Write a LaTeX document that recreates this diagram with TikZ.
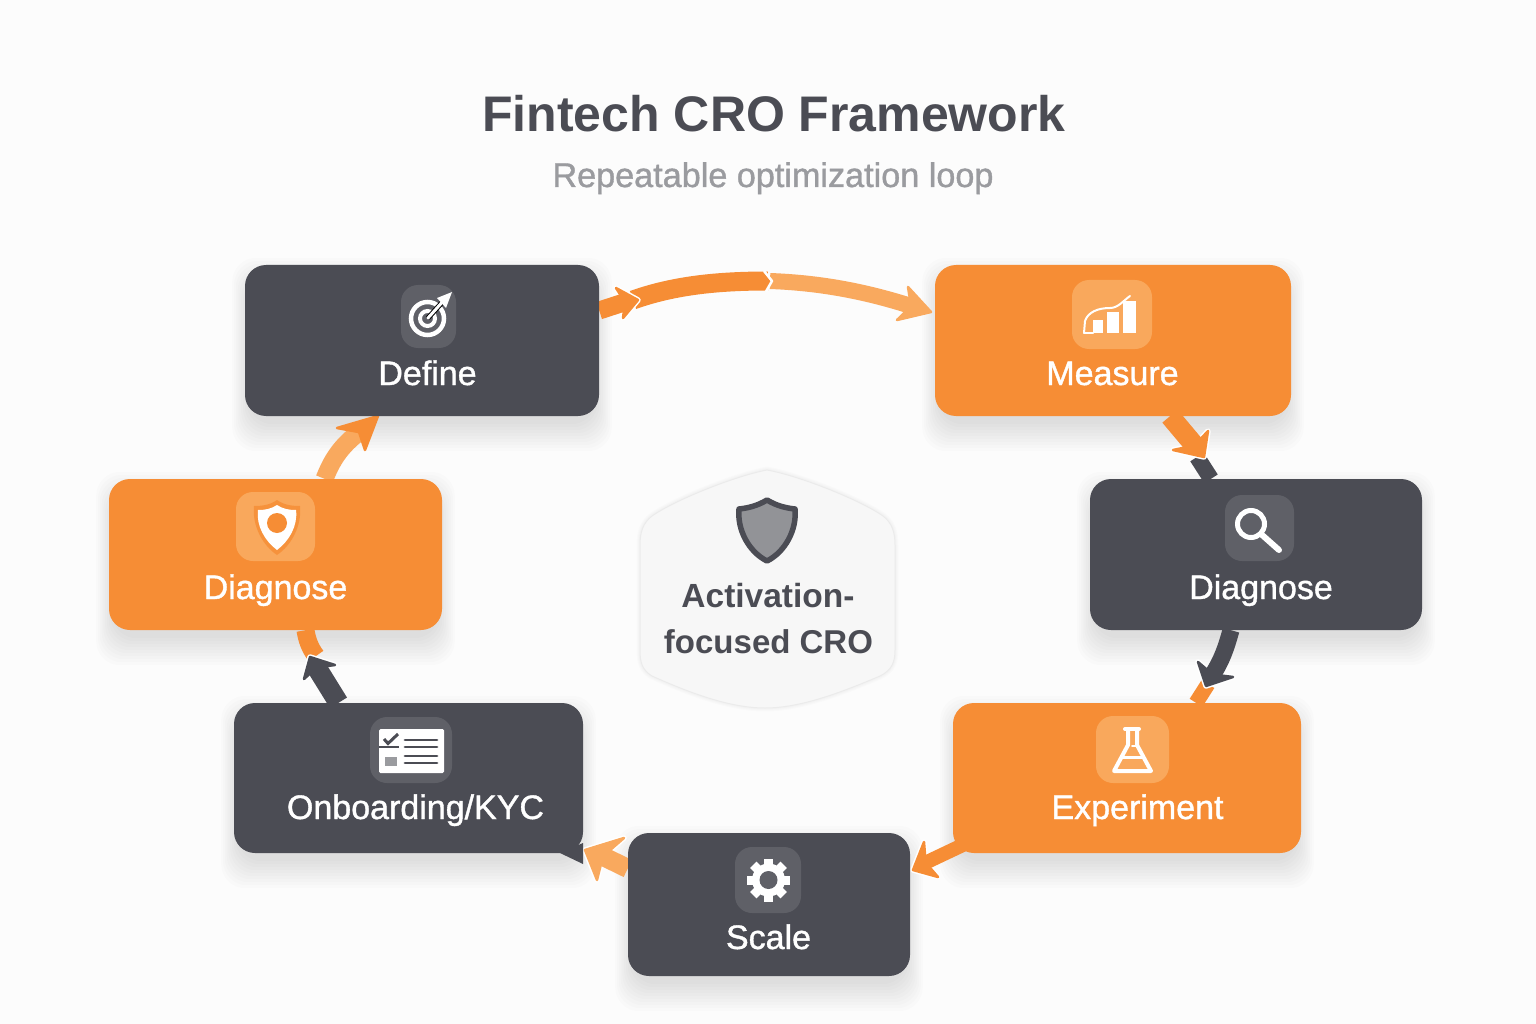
\documentclass[tikz,border=0pt]{standalone}
\usepackage{fontspec}
\usetikzlibrary{calc}
\setmainfont{Liberation Sans}
\newfontfamily\labfont[FakeBold=1.1]{Liberation Sans}
\definecolor{bgc}{HTML}{FCFCFC}
\definecolor{darkc}{HTML}{4B4C54}
\definecolor{orc}{HTML}{F68D35}
\definecolor{lightc}{HTML}{F9A95E}
\definecolor{tiled}{HTML}{5F6067}
\definecolor{tileo}{HTML}{F9A85C}
\definecolor{greyt}{HTML}{9A9B9F}
\tikzset{
 boxd/.style={rectangle,rounded corners=21pt,fill=darkc,inner sep=0pt,draw=none},
 boxo/.style={rectangle,rounded corners=21pt,fill=orc,inner sep=0pt,draw=none},
 lab/.style={anchor=base,text=white,font=\labfont\fontsize{34}{38}\selectfont,inner sep=0pt},
 tiled/.style={fill=tiled,rounded corners=17pt},
 tileo/.style={fill=tileo,rounded corners=17pt},
 seg/.style={line width=#1,line cap=butt},
 ico/.style={draw=white,line cap=round,line join=round},
}
\newcommand\softshadow[1]{%
 \foreach \s in {-6,-3,0,3,6,9,12,15,18,21}{%
  \path[fill=black,opacity=.012,rounded corners=24pt]
   ($(#1.south west)+(-.6*\s,14+\s)$) rectangle ($(#1.north east)+(.6*\s,14-\s)$);}}
% a head named #1: coordinates #1h (tip), #1hA, #1hB (barbs); #1n is where its shaft ends
\newcommand\headdef[4]{%
 \coordinate (#1h) at (#2); \coordinate (#1hA) at (#3); \coordinate (#1hB) at (#4);
 \coordinate (#1n) at ($($(#1hA)!.5!(#1hB)$)!.3!(#1h)$);}
\newcommand\headbg[1]{%
 \path[fill=white,draw=white,line width=5.5pt,line join=round] (#1h)--(#1hA)--(#1n)--(#1hB)--cycle;}
\newcommand\headfg[2]{%
 \path[fill=#1,draw=#1,line width=2.5pt,line join=round] (#2h)--(#2hA)--(#2n)--(#2hB)--cycle;}
\begin{document}
\begin{tikzpicture}[x=1pt,y=-1pt]
\useasboundingbox (0,0) rectangle (1536,1024);
\fill[bgc] (0,0) rectangle (1536,1024);
% titles
\node[anchor=base,inner sep=0pt,text=darkc,font=\bfseries\fontsize{50}{54}\selectfont] (title) at (774,132) {Fintech CRO Framework};
\node[anchor=base,inner sep=0pt,text=greyt,font=\labfont\fontsize{34.2}{38}\selectfont] (subtitle) at (773,187) {Repeatable optimization loop};
% box geometry (placed invisibly first, so that shadows and connectors can use their names)
\path
 node[minimum width=354pt,minimum height=151pt,inner sep=0pt] (define) at (422,340.5) {}
 node[minimum width=356pt,minimum height=151pt,inner sep=0pt] (measure) at (1113,340.5) {}
 node[minimum width=332pt,minimum height=151pt,inner sep=0pt] (diagr) at (1256,554.5) {}
 node[minimum width=348pt,minimum height=150pt,inner sep=0pt] (experiment) at (1127,778) {}
 node[minimum width=282pt,minimum height=143pt,inner sep=0pt] (scale) at (769,904.5) {}
 node[minimum width=349pt,minimum height=150pt,inner sep=0pt] (onboarding) at (408.5,778) {}
 node[minimum width=333pt,minimum height=151pt,inner sep=0pt] (diagl) at (275.5,554.5) {};
\foreach \n in {define,measure,diagr,experiment,scale,onboarding,diagl}{\softshadow{\n}}
% connector waypoints
\headdef{c1}{638,300}{616,288}{623,318}
\coordinate (c1m) at (633,300); \coordinate (c1e) at (768,281); \coordinate (c1o) at (770,281);
\headdef{c2}{931,312}{908,287}{897,320}
\headdef{c3}{1204,457}{1208,431}{1173,450}
\coordinate (c3m) at (1197,457);
\headdef{c4}{1206,686}{1198,662}{1233,677}
\coordinate (c4m) at (1208,684);
\headdef{c5}{913,870}{924,842}{938,877}
\headdef{c6}{585,850}{624,838}{597,880}
\headdef{c7}{310,657}{304,679}{335,665}
\coordinate (c7m) at (316,656);
\headdef{c8}{378,416}{337,428}{365,450}
% Define -> Measure
\draw[lightc,seg=16pt] (c1o) .. controls (825,283) and (870,293) .. (c2n);
\headfg{lightc}{c2}
\draw[orc,seg=19pt] (c1m) .. controls (675,285) and (720,281) .. (c1e);
\fill[orc] (764,271.5)--(772,281)--(766,290.5)--cycle;
\draw[white,line width=2.5pt,line join=round] (764,271)--(772,281)--(766,291.5);
\headbg{c1}
\draw[orc,seg=18pt] ($(define.east)+(0,-30)$) -- (c1n);
\headfg{orc}{c1}
% Measure -> Diagnose
\draw[darkc,seg=16pt] (c3m) -- ($(diagr.north)+(-45,0)$);
\headbg{c3}
\draw[orc,seg=20pt] ($(measure.south)+(57,0)$) -- (c3n);
\headfg{orc}{c3}
% Diagnose -> Experiment
\draw[orc,seg=15pt] ($(experiment.north)+(69,0)$) -- (c4m);
\headbg{c4}
\draw[darkc,seg=17pt] ($(diagr.south)+(-25,0)$) .. controls (1226,648) and (1222,660) .. (c4n);
\headfg{darkc}{c4}
% Experiment -> Scale
\headbg{c5}
\draw[orc,seg=14pt] ($(experiment.west)+(10,67)$) -- (c5n);
\headfg{orc}{c5}
% Scale -> Onboarding
\headbg{c6}
\draw[lightc,seg=19pt] ($(scale.west)+(0,-36)$) -- (c6n);
\headfg{lightc}{c6}
% Onboarding -> Diagnose
\draw[orc,seg=18pt] ($(diagl.south)+(30,0)$) .. controls (307,640) and (310,648) .. (c7m);
\headbg{c7}
\draw[darkc,seg=20pt] ($(onboarding.north)+(-70,0)$) -- (c7n);
\headfg{darkc}{c7}
% Diagnose -> Define
\draw[lightc,seg=18pt] ($(diagl.north)+(49,0)$) .. controls (332,460) and (340,447) .. (c8n);
\headfg{orc}{c8}
% boxes
\path
 node[boxd,minimum width=354pt,minimum height=151pt] (defineb) at (define) {}
 node[boxo,minimum width=356pt,minimum height=151pt] (measureb) at (measure) {}
 node[boxd,minimum width=332pt,minimum height=151pt] (diagrb) at (diagr) {}
 node[boxo,minimum width=348pt,minimum height=150pt] (experimentb) at (experiment) {}
 node[boxd,minimum width=282pt,minimum height=143pt] (scaleb) at (scale) {}
 node[boxd,minimum width=349pt,minimum height=150pt] (onboardingb) at (onboarding) {}
 node[boxo,minimum width=333pt,minimum height=151pt] (diaglb) at (diagl) {};
\fill[darkc] (560,853)--(583,864)--(583,843)--cycle;
% labels
\node[lab] (l1) at (427.5,385) {Define};
\node[lab] (l2) at (1112.5,385) {Measure};
\node[lab] (l3) at (1261,599) {Diagnose};
\node[lab] (l4) at (1137.5,819) {Experiment};
\node[lab] (l5) at (768.5,949) {Scale};
\node[lab] (l6) at (415.5,819) {Onboarding/KYC};
\node[lab] (l7) at (275.5,599) {Diagnose};
% tiles
\fill[tiled] (401,285) rectangle (456,348);
\fill[tileo] (1072,280) rectangle (1152,349);
\fill[tiled] (1225,495) rectangle (1294,561);
\fill[tileo] (1096,716) rectangle (1169,783);
\fill[tiled] (735,847) rectangle (801,913);
\fill[tiled] (370,717) rectangle (452,783);
\fill[tileo] (236,492) rectangle (315,561);
% target icon
\draw[white,line width=4.5pt] (427.5,318.5) circle (16.5);
\draw[white,line width=4pt] (427.5,318.5) circle (7.5);
\draw[tiled,line width=5pt] (428,318) -- (447,297);
\draw[white,line width=3pt,line cap=round] (428,318) -- (446,298);
\fill[white] (452,292)--(437,298)--(446,308)--cycle;
% chart icon
\fill[white] (1093,320) rectangle (1103,333);
\fill[white] (1107,312) rectangle (1119,333);
\fill[white] (1123,301) rectangle (1136,333);
\draw[ico,line width=2pt] (1084,333) -- (1085,321) .. controls (1088,312) and (1098,308) .. (1110,308) .. controls (1118,308) and (1123,301) .. (1130,296);
\draw[ico,line width=2pt] (1084,333)--(1093,333);
% magnifier icon
\draw[white,line width=5pt] (1251,524) circle (13.5);
\draw[white,line width=6pt,line cap=round] (1261,534) -- (1279,550);
% flask icon
\draw[ico,line width=4pt] (1125,729)--(1139,729);
\draw[ico,line width=4pt] (1128,730)--(1128,745)--(1114,771)--(1151,771)--(1137,745)--(1137,730);
\draw[ico,line width=3pt] (1122,757)--(1143,757);
\draw[ico,line width=2pt] (1132,746)--(1137,746);
% gear icon
\foreach \a in {0,45,...,315}{\fill[white,rotate around={\a:(768.5,880)}] (764,858.5) rectangle (773,870);}
\fill[white] (768.5,880) circle (16.5);
\fill[tiled] (768.5,880) circle (9);
% checklist icon
\fill[white,rounded corners=1.5pt] (379,729) rectangle (444,773);
\foreach \y in {740,747,756,763}{\draw[darkc,line width=2.8pt,line cap=round] (405,\y)--(437,\y);}
\draw[darkc,line width=2.2pt] (379,747)--(399,747);
\draw[darkc,line width=3pt] (384,739)--(388,743.5)--(398,734);
\fill[greyt] (385,757) rectangle (397,766);
% shield in orange tile
\path[fill=orc,opacity=.8] (277,500) .. controls (284,505) and (292,506) .. (300,506) .. controls (302,525) and (292,545) .. (277,555) .. controls (262,545) and (252,525) .. (254,506) .. controls (262,506) and (270,505) .. (277,500) -- cycle;
\path[fill=white] (277,505) .. controls (283,509) and (289,510) .. (296,510) .. controls (298,526) and (289,541) .. (277,550) .. controls (265,541) and (256,526) .. (258,510) .. controls (265,510) and (271,509) .. (277,505) -- cycle;
\fill[orc] (277,523) circle (10);
% central badge
\node[inner sep=0pt,minimum width=255pt,minimum height=238pt] (hub) at (767.5,589) {};
\foreach \s in {7,5,3}{
 \path[draw=black,opacity=.012,line width=\s pt] (767,470) .. controls (800,476) and (860,500) .. (883,516) .. controls (892,523) and (895,532) .. (895,545) -- (895,650) .. controls (895,662) and (892,670) .. (880,676) .. controls (840,693) and (800,708) .. (765,708) .. controls (730,708) and (690,693) .. (652,676) .. controls (642,670) and (640,662) .. (640,650) -- (640,545) .. controls (640,532) and (643,523) .. (652,516) .. controls (675,500) and (735,476) .. (767,470) -- cycle;}
\path[fill=white!97!black,draw=white!92!black,line width=1pt] (767,470) .. controls (800,476) and (860,500) .. (883,516) .. controls (892,523) and (895,532) .. (895,545) -- (895,650) .. controls (895,662) and (892,670) .. (880,676) .. controls (840,693) and (800,708) .. (765,708) .. controls (730,708) and (690,693) .. (652,676) .. controls (642,670) and (640,662) .. (640,650) -- (640,545) .. controls (640,532) and (643,523) .. (652,516) .. controls (675,500) and (735,476) .. (767,470) -- cycle;
\path[fill=greyt!95!black,draw=darkc,line width=5.5pt,line join=round] (767,500) .. controls (777,506) and (786,508) .. (795,509) .. controls (797,530) and (785,552) .. (767,561) .. controls (749,552) and (737,530) .. (739,509) .. controls (748,508) and (757,506) .. (767,500) -- cycle;
\node[anchor=base,inner sep=0pt,text=darkc,font=\bfseries\fontsize{33.5}{36}\selectfont] (hub1) at (768,607) {Activation-};
\node[anchor=base,inner sep=0pt,text=darkc,font=\bfseries\fontsize{33}{36}\selectfont] (hub2) at (768.5,653) {focused CRO};
\end{tikzpicture}
\end{document}
